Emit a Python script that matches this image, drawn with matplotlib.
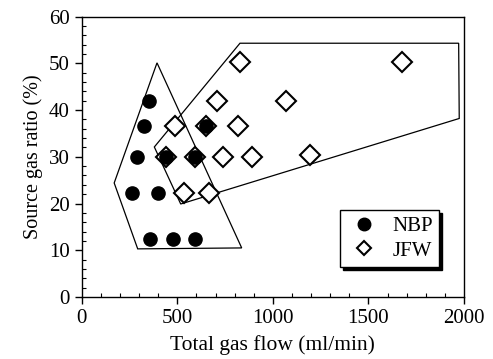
import matplotlib
matplotlib.use("Agg")
import matplotlib.pyplot as plt
from matplotlib.patches import Polygon
from matplotlib.ticker import MultipleLocator

plt.rcParams['font.family'] = ['Liberation Serif', 'DejaVu Serif']
plt.rcParams['font.size'] = 15

# NBP (filled circles)
nbp_flow = [350, 325, 290, 265, 400, 355, 480, 595, 650, 440, 595]
nbp_ratio = [42, 36.5, 30, 22.3, 22.3, 12.5, 12.5, 12.5, 36.5, 30, 30]

# JFW (open diamonds)
jfw_flow = [490, 440, 595, 650, 535, 665, 710, 740, 820, 830, 890, 1070, 1195, 1675]
jfw_ratio = [36.5, 30, 30, 36.5, 22.3, 22.3, 42, 30, 36.5, 50.2, 30, 42, 30.3, 50.3]

# outlines around each group
nbp_region_flow = [394, 170, 293, 837]
nbp_region_ratio = [50.1, 24.4, 10.3, 10.5]
jfw_region_flow = [828, 1972, 1975, 518, 380]
jfw_region_ratio = [54.3, 54.3, 38.2, 19.9, 32.1]

fig = plt.figure(figsize=(4.93, 3.59), dpi=100)
ax = fig.add_axes([0.1657, 0.1727, 0.7755, 0.7811])

ax.add_patch(Polygon(list(zip(nbp_region_flow, nbp_region_ratio)), closed=True,
                     fill=False, edgecolor='black', linewidth=0.9))
ax.add_patch(Polygon(list(zip(jfw_region_flow, jfw_region_ratio)), closed=True,
                     fill=False, edgecolor='black', linewidth=0.9))

ax.plot(jfw_flow, jfw_ratio, linestyle='none', marker='D', markersize=10.5,
        markerfacecolor='white', markeredgecolor='black', markeredgewidth=1.5,
        label='JFW', zorder=3)
ax.plot(nbp_flow, nbp_ratio, linestyle='none', marker='o', markersize=9.5,
        markerfacecolor='black', markeredgecolor='black',
        label='NBP', zorder=4)

ax.set_xlim(0, 2000)
ax.set_ylim(0, 60)
ax.xaxis.set_major_locator(MultipleLocator(500))
ax.xaxis.set_minor_locator(MultipleLocator(100))
ax.yaxis.set_major_locator(MultipleLocator(10))
ax.yaxis.set_minor_locator(MultipleLocator(2))
ax.tick_params(which='major', direction='out', length=5, width=1, top=False, right=False)
ax.tick_params(which='minor', direction='in', length=3, width=0.8, top=False, right=False)
for s in ax.spines.values():
    s.set_linewidth(1)

ax.set_xlabel("Total gas flow (ml/min)", fontsize=15.5, labelpad=5)
ax.set_ylabel("Source gas ratio (%)", fontsize=14.5, labelpad=4)

handles, labels = ax.get_legend_handles_labels()
leg = ax.legend(handles[::-1], labels[::-1], loc='lower right',
                bbox_to_anchor=(0.935, 0.107), frameon=True, fancybox=False,
                shadow={'color': 'black', 'alpha': 1}, framealpha=1,
                edgecolor='black', handlelength=1.66, handletextpad=0.55,
                borderpad=0.3, labelspacing=0.25, borderaxespad=0)
leg.get_frame().set_linewidth(1)
leg.legend_handles[0].set_markersize(9)
leg.legend_handles[1].set_markersize(6.8)

plt.savefig("out.png", dpi=100)
